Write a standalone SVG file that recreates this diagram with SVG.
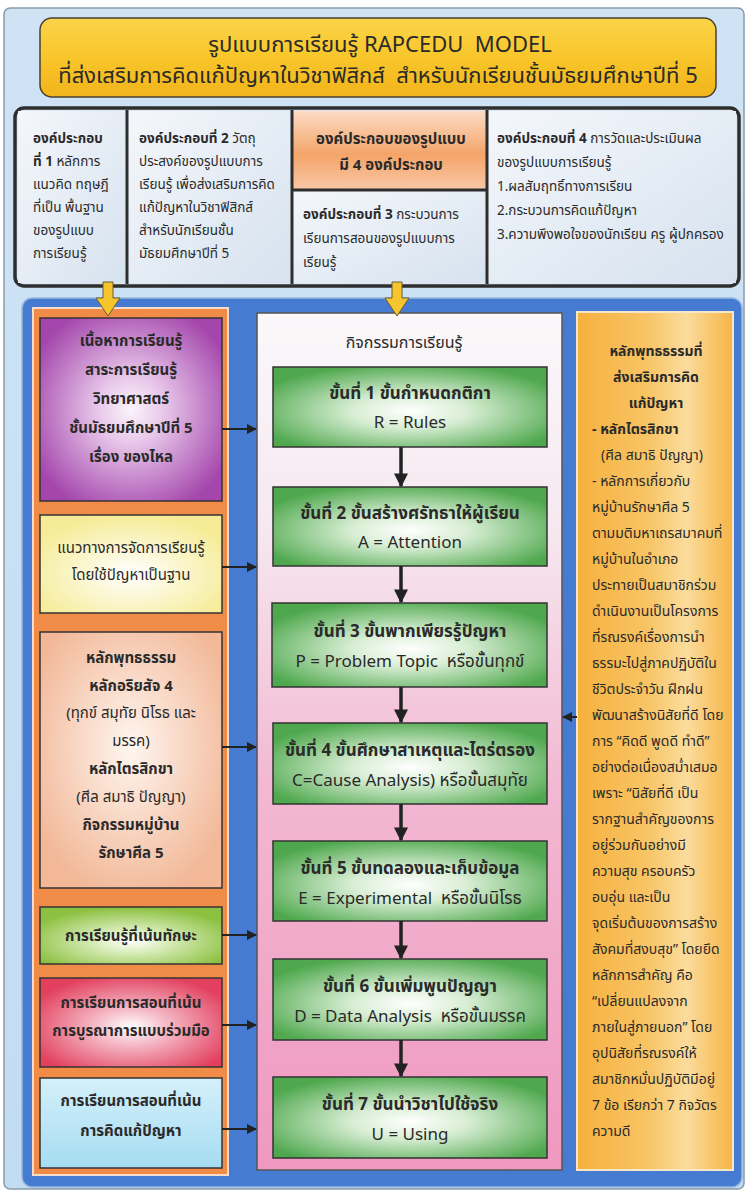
<svg xmlns="http://www.w3.org/2000/svg" width="747" height="1191" viewBox="0 0 747 1191">
<defs>
<style>
text{font-family:"Noto Sans Thai","Noto Sans Thai UI","Noto Sans","Liberation Sans",sans-serif;fill:#2a2a2a;white-space:pre;}
.t{font-size:22px;text-anchor:middle;}
.c{font-size:13.5px;}
.b{font-weight:bold;}
.l{font-size:15px;text-anchor:middle;font-weight:bold;}
.ln{font-size:15px;text-anchor:middle;}
.h{font-size:15px;text-anchor:middle;font-weight:bold;}
.hd{font-size:16px;text-anchor:middle;}
.s{font-size:17px;text-anchor:middle;}
.r{font-size:14px;}
.rc{font-size:14px;text-anchor:middle;font-weight:bold;}
.box{stroke:#333;stroke-width:1.5;}
.step{fill:url(#gGreen);stroke:#333;stroke-width:1.5;}
.conn{stroke:#222;stroke-width:2;fill:none;}
.sconn{stroke:#222;stroke-width:3.5;fill:none;}
.yarr{fill:#f6c52e;stroke:#6a5a30;stroke-width:1;}
</style>
<linearGradient id="gBg" x1="0" y1="0" x2="0" y2="1"><stop offset="0" stop-color="#cfe3f5"/><stop offset="1" stop-color="#c2dcf2"/></linearGradient>
<linearGradient id="gTitle" x1="0" y1="0" x2="0" y2="1"><stop offset="0" stop-color="#fbd44a"/><stop offset="0.5" stop-color="#f8c62a"/><stop offset="1" stop-color="#f3b41c"/></linearGradient>
<linearGradient id="gCell" x1="0" y1="0" x2="1" y2="1"><stop offset="0" stop-color="#f4f7fb"/><stop offset="1" stop-color="#d6e2ef"/></linearGradient>
<linearGradient id="gHead" x1="0" y1="0" x2="0" y2="1"><stop offset="0" stop-color="#fcdcc6"/><stop offset="0.55" stop-color="#f4a468"/><stop offset="1" stop-color="#f8c8a8"/></linearGradient>
<linearGradient id="gCenter" x1="0" y1="0" x2="0" y2="1"><stop offset="0" stop-color="#faf8fa"/><stop offset="0.25" stop-color="#f6e8f0"/><stop offset="0.55" stop-color="#f2b8d2"/><stop offset="1" stop-color="#ef98c0"/></linearGradient>
<linearGradient id="gRight" x1="0" y1="0" x2="1" y2="0"><stop offset="0" stop-color="#f6b13e"/><stop offset="0.45" stop-color="#f8c464"/><stop offset="0.7" stop-color="#fbdc9c"/><stop offset="1" stop-color="#f6b446"/></linearGradient>
<radialGradient id="gGreen" cx="0.5" cy="0.55" r="0.6"><stop offset="0" stop-color="#ffffff"/><stop offset="0.35" stop-color="#d8eed4"/><stop offset="1" stop-color="#4fa84e"/></radialGradient>
<radialGradient id="gPurple" cx="0.5" cy="0.5" r="0.6"><stop offset="0" stop-color="#fbf4fb"/><stop offset="0.3" stop-color="#e8c8ea"/><stop offset="1" stop-color="#a446ac"/></radialGradient>
<radialGradient id="gYellow" cx="0.5" cy="0.6" r="0.6"><stop offset="0" stop-color="#ffffff"/><stop offset="1" stop-color="#f6ec98"/></radialGradient>
<radialGradient id="gPeach" cx="0.5" cy="0.45" r="0.6"><stop offset="0" stop-color="#fff6f0"/><stop offset="1" stop-color="#f2b898"/></radialGradient>
<radialGradient id="gLime" cx="0.5" cy="0.6" r="0.6"><stop offset="0" stop-color="#ffffff"/><stop offset="0.3" stop-color="#dcefc0"/><stop offset="1" stop-color="#8cc040"/></radialGradient>
<radialGradient id="gRed" cx="0.5" cy="0.55" r="0.6"><stop offset="0" stop-color="#ffffff"/><stop offset="0.3" stop-color="#f6c0cc"/><stop offset="1" stop-color="#e2405e"/></radialGradient>
<linearGradient id="gSky" x1="0" y1="0" x2="0" y2="1"><stop offset="0" stop-color="#d4f0fa"/><stop offset="1" stop-color="#a6dcf2"/></linearGradient>
<marker id="ah" viewBox="0 0 10 10" refX="9" refY="5" markerWidth="5" markerHeight="5" orient="auto"><path d="M0,0 L10,5 L0,10 z" fill="#222"/></marker>
<marker id="ahb" viewBox="0 0 10 10" refX="9" refY="5" markerWidth="5" markerHeight="5.5" orient="auto"><path d="M0,0 L10,5 L0,10 z" fill="#222"/></marker>
<marker id="ahs" viewBox="0 0 10 10" refX="9" refY="5" markerWidth="4" markerHeight="4.5" orient="auto"><path d="M0,0 L10,5 L0,10 z" fill="#222"/></marker>
</defs>

<!-- background -->
<rect x="0" y="0" width="747" height="1191" fill="#ffffff"/>
<rect x="4" y="8" width="740" height="1181" rx="6" fill="url(#gBg)" stroke="#8a9aa8" stroke-width="1.5"/>

<!-- title -->
<g id="title">
<rect x="40" y="18" width="676" height="79" rx="12" fill="url(#gTitle)" stroke="#4a4030" stroke-width="1.5"/>
<text class="t" x="380" y="52">รูปแบบการเรียนรู้ RAPCEDU  MODEL</text>
<text class="t" x="378" y="83">ที่ส่งเสริมการคิดแก้ปัญหาในวิชาฟิสิกส์  สำหรับนักเรียนชั้นมัธยมศึกษาปีที่ 5</text>
</g>

<!-- components panel -->
<g id="components">
<rect x="15" y="108" width="724" height="178" rx="9" fill="#dde7f2" stroke="#2e2e2e" stroke-width="3.5"/>
<g id="comp1">
<rect x="18" y="111" width="109" height="172" fill="url(#gCell)"/>
<text class="c" x="33" y="143"><tspan class="b">องค์ประกอบ</tspan></text>
<text class="c" x="33" y="166"><tspan class="b">ที่ 1</tspan> หลักการ</text>
<text class="c" x="33" y="189">แนวคิด ทฤษฎี</text>
<text class="c" x="33" y="212">ที่เป็น พื้นฐาน</text>
<text class="c" x="33" y="235">ของรูปแบบ</text>
<text class="c" x="33" y="258">การเรียนรู้</text>
</g>
<g id="comp2">
<rect x="127" y="111" width="165" height="172" fill="url(#gCell)"/>
<text class="c" x="139" y="143"><tspan class="b">องค์ประกอบที่ 2</tspan> วัตถุ</text>
<text class="c" x="139" y="166">ประสงค์ของรูปแบบการ</text>
<text class="c" x="139" y="189">เรียนรู้ เพื่อส่งเสริมการคิด</text>
<text class="c" x="139" y="212">แก้ปัญหาในวิชาฟิสิกส์</text>
<text class="c" x="139" y="235">สำหรับนักเรียนชั้น</text>
<text class="c" x="139" y="258">มัธยมศึกษาปีที่ 5</text>
</g>
<g id="compHead">
<rect x="292" y="111" width="195" height="79" fill="url(#gHead)"/>
<text class="h" x="391" y="144">องค์ประกอบของรูปแบบ</text>
<text class="h" x="391" y="170">มี 4 องค์ประกอบ</text>
</g>
<g id="comp3">
<rect x="292" y="190" width="195" height="93" fill="url(#gCell)"/>
<text class="c" x="303" y="219"><tspan class="b">องค์ประกอบที่ 3</tspan> กระบวนการ</text>
<text class="c" x="303" y="243">เรียนการสอนของรูปแบบการ</text>
<text class="c" x="303" y="267">เรียนรู้</text>
</g>
<g id="comp4">
<rect x="487" y="111" width="249" height="172" fill="url(#gCell)"/>
<text class="c" x="497" y="143"><tspan class="b">องค์ประกอบที่ 4</tspan> การวัดและประเมินผล</text>
<text class="c" x="497" y="167">ของรูปแบบการเรียนรู้</text>
<text class="c" x="497" y="191">1.ผลสัมฤทธิ์ทางการเรียน</text>
<text class="c" x="497" y="215">2.กระบวนการคิดแก้ปัญหา</text>
<text class="c" x="497" y="239">3.ความพึงพอใจของนักเรียน ครู ผู้ปกครอง</text>
</g>
<g stroke="#2e2e2e" stroke-width="3">
<line x1="127" y1="110" x2="127" y2="284"/>
<line x1="292" y1="110" x2="292" y2="284"/>
<line x1="487" y1="110" x2="487" y2="284"/>
<line x1="292" y1="190" x2="487" y2="190"/>
</g>
</g>

<!-- main blue panel -->
<rect x="22" y="298" width="720" height="889" rx="10" fill="#457cd2" stroke="#9ab8e0" stroke-width="1.5"/>
<rect x="33" y="308" width="195" height="867" fill="#f08c48" stroke="#f6dccc" stroke-width="2"/>

<!-- left boxes -->
<g id="content">
<rect class="box" x="40" y="318" width="182" height="183" fill="url(#gPurple)"/>
<text class="l" x="131" y="346">เนื้อหาการเรียนรู้</text>
<text class="l" x="131" y="375">สาระการเรียนรู้</text>
<text class="l" x="131" y="404">วิทยาศาสตร์</text>
<text class="l" x="131" y="433">ชั้นมัธยมศึกษาปีที่ 5</text>
<text class="l" x="131" y="462">เรื่อง ของไหล</text>
</g>
<g id="approach">
<rect class="box" x="40" y="515" width="182" height="98" fill="url(#gYellow)"/>
<text class="ln" x="131" y="553">แนวทางการจัดการเรียนรู้</text>
<text class="ln" x="131" y="580">โดยใช้ปัญหาเป็นฐาน</text>
</g>
<g id="dhamma">
<rect class="box" x="40" y="632" width="182" height="256" fill="url(#gPeach)"/>
<text class="l" x="131" y="663">หลักพุทธธรรม</text>
<text class="l" x="131" y="691">หลักอริยสัจ 4</text>
<text class="ln" x="131" y="718">(ทุกข์ สมุทัย นิโรธ และ</text>
<text class="ln" x="131" y="746">มรรค)</text>
<text class="l" x="131" y="774">หลักไตรสิกขา</text>
<text class="ln" x="131" y="802">(ศีล สมาธิ ปัญญา)</text>
<text class="l" x="131" y="830">กิจกรรมหมู่บ้าน</text>
<text class="l" x="131" y="858">รักษาศีล 5</text>
</g>
<g id="skills">
<rect class="box" x="40" y="907" width="182" height="57" fill="url(#gLime)"/>
<text class="l" x="131" y="941">การเรียนรู้ที่เน้นทักษะ</text>
</g>
<g id="cooperative">
<rect class="box" x="40" y="978" width="182" height="89" fill="url(#gRed)"/>
<text class="l" x="131" y="1008">การเรียนการสอนที่เน้น</text>
<text class="l" x="131" y="1036">การบูรณาการแบบร่วมมือ</text>
</g>
<g id="problem">
<rect class="box" x="40" y="1078" width="182" height="90" fill="url(#gSky)"/>
<text class="l" x="131" y="1106">การเรียนการสอนที่เน้น</text>
<text class="l" x="131" y="1136">การคิดแก้ปัญหา</text>
</g>

<!-- center panel -->
<g id="activities">
<rect x="257" y="313" width="305" height="857" fill="url(#gCenter)" stroke="#555" stroke-width="1.5"/>
<text class="hd" x="404" y="348">กิจกรรมการเรียนรู้</text>
</g>
<g id="step1"><rect class="step" x="273" y="367" width="274" height="80"/>
<text class="s b" x="410" y="399">ขั้นที่ 1 ขั้นกำหนดกติกา</text><text class="s" x="410" y="428">R = Rules</text></g>
<g id="step2"><rect class="step" x="273" y="487" width="274" height="79"/>
<text class="s b" x="410" y="519">ขั้นที่ 2 ขั้นสร้างศรัทธาให้ผู้เรียน</text><text class="s" x="410" y="548">A = Attention</text></g>
<g id="step3"><rect class="step" x="272" y="603" width="275" height="84"/>
<text class="s b" x="410" y="637">ขั้นที่ 3 ขั้นพากเพียรรู้ปัญหา</text><text class="s" x="410" y="667">P = Problem Topic  หรือขั้นทุกข์</text></g>
<g id="step4"><rect class="step" x="273" y="723" width="274" height="81"/>
<text class="s b" x="410" y="756">ขั้นที่ 4 ขั้นศึกษาสาเหตุและไตร่ตรอง</text><text class="s" x="410" y="786">C=Cause Analysis) หรือขั้นสมุทัย</text></g>
<g id="step5"><rect class="step" x="273" y="841" width="274" height="80"/>
<text class="s b" x="410" y="874">ขั้นที่ 5 ขั้นทดลองและเก็บข้อมูล</text><text class="s" x="410" y="904">E = Experimental  หรือขั้นนิโรธ</text></g>
<g id="step6"><rect class="step" x="273" y="959" width="274" height="81"/>
<text class="s b" x="410" y="992">ขั้นที่ 6 ขั้นเพิ่มพูนปัญญา</text><text class="s" x="410" y="1022">D = Data Analysis  หรือขั้นมรรค</text></g>
<g id="step7"><rect class="step" x="273" y="1077" width="274" height="81"/>
<text class="s b" x="410" y="1110">ขั้นที่ 7 ขั้นนำวิชาไปใช้จริง</text><text class="s" x="410" y="1140">U = Using</text></g>

<!-- right panel -->
<g id="principles">
<rect x="577" y="312" width="156" height="858" fill="url(#gRight)" stroke="#f8e6c8" stroke-width="2"/>
<text class="rc" x="656" y="356">หลักพุทธธรรมที่</text>
<text class="rc" x="656" y="382">ส่งเสริมการคิด</text>
<text class="rc" x="656" y="408">แก้ปัญหา</text>
<text class="r b" x="592" y="434">- หลักไตรสิกขา</text>
<text class="r" x="601" y="460">(ศีล สมาธิ ปัญญา)</text>
<text class="r" x="592" y="486">- หลักการเกี่ยวกับ</text>
<text class="r" x="592" y="512">หมู่บ้านรักษาศีล 5</text>
<text class="r" x="592" y="538">ตามมติมหาเถรสมาคมที่</text>
<text class="r" x="592" y="564">หมู่บ้านในอำเภอ</text>
<text class="r" x="592" y="590">ประทายเป็นสมาชิกร่วม</text>
<text class="r" x="592" y="616">ดำเนินงานเป็นโครงการ</text>
<text class="r" x="592" y="642">ที่รณรงค์เรื่องการนำ</text>
<text class="r" x="592" y="668">ธรรมะไปสู่ภาคปฏิบัติใน</text>
<text class="r" x="592" y="694">ชีวิตประจำวัน ฝึกฝน</text>
<text class="r" x="592" y="720">พัฒนาสร้างนิสัยที่ดี โดย</text>
<text class="r" x="592" y="746">การ “คิดดี พูดดี ทำดี”</text>
<text class="r" x="592" y="772">อย่างต่อเนื่องสม่ำเสมอ</text>
<text class="r" x="592" y="798">เพราะ “นิสัยที่ดี เป็น</text>
<text class="r" x="592" y="824">รากฐานสำคัญของการ</text>
<text class="r" x="592" y="850">อยู่ร่วมกันอย่างมี</text>
<text class="r" x="592" y="876">ความสุข ครอบครัว</text>
<text class="r" x="592" y="902">อบอุ่น และเป็น</text>
<text class="r" x="592" y="928">จุดเริ่มต้นของการสร้าง</text>
<text class="r" x="592" y="954">สังคมที่สงบสุข” โดยยึด</text>
<text class="r" x="592" y="980">หลักการสำคัญ คือ</text>
<text class="r" x="592" y="1006">“เปลี่ยนแปลงจาก</text>
<text class="r" x="592" y="1032">ภายในสู่ภายนอก” โดย</text>
<text class="r" x="592" y="1058">อุปนิสัยที่รณรงค์ให้</text>
<text class="r" x="592" y="1084">สมาชิกหมั่นปฏิบัติมีอยู่</text>
<text class="r" x="592" y="1110">7 ข้อ เรียกว่า 7 กิจวัตร</text>
<text class="r" x="592" y="1136">ความดี</text>
</g>

<!-- connectors -->
<g id="connectors">
<polygon class="yarr" points="103,282 113,282 113,298 120,298 108,316 96,298 103,298"/>
<polygon class="yarr" points="392,282 402,282 402,298 409,298 397,316 385,298 392,298"/>
<line class="conn" x1="222" y1="429" x2="256" y2="429" marker-end="url(#ah)"/>
<line class="conn" x1="222" y1="567" x2="256" y2="567" marker-end="url(#ah)"/>
<line class="conn" x1="222" y1="747" x2="256" y2="747" marker-end="url(#ah)"/>
<line class="conn" x1="222" y1="935" x2="256" y2="935" marker-end="url(#ah)"/>
<line class="conn" x1="222" y1="1025" x2="256" y2="1025" marker-end="url(#ah)"/>
<line class="conn" x1="222" y1="1129" x2="256" y2="1129" marker-end="url(#ah)"/>
<line class="conn" x1="577" y1="717" x2="563" y2="717" marker-end="url(#ahb)" stroke-width="3"/>
<line class="sconn" x1="401" y1="447" x2="401" y2="486" marker-end="url(#ahs)"/>
<line class="sconn" x1="401" y1="566" x2="401" y2="602" marker-end="url(#ahs)"/>
<line class="sconn" x1="401" y1="687" x2="401" y2="722" marker-end="url(#ahs)"/>
<line class="sconn" x1="401" y1="804" x2="401" y2="840" marker-end="url(#ahs)"/>
<line class="sconn" x1="401" y1="921" x2="401" y2="958" marker-end="url(#ahs)"/>
<line class="sconn" x1="401" y1="1040" x2="401" y2="1076" marker-end="url(#ahs)"/>
</g>
</svg>
